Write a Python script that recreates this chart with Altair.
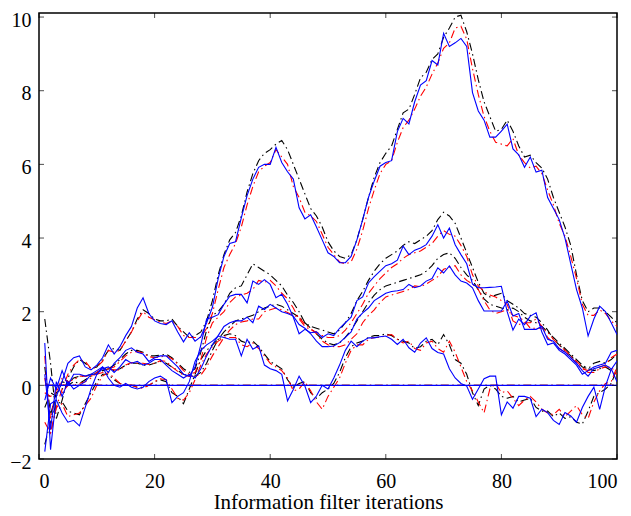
import altair as alt
import pandas as pd

# iteration index
iters = list(range(1, 101))

# ---- state 1 (large excursion) ----
true_1 = [1.15, -1.75, -0.3, 0.1, 0.6, 0.75, 0.8, 0.5, 0.42, 0.55,
          0.75, 1.1, 0.85, 1.05, 1.35, 1.6, 2.1, 2.38, 1.95, 1.75,
          1.68, 1.65, 1.75, 1.45, 1.18, 1.43, 1.2, 1.32, 1.7, 2.12,
          2.9, 3.5, 3.85, 3.9, 4.55, 5.15, 5.6, 5.92, 6.0, 6.0,
          6.46, 6.05, 5.8, 5.6, 4.82, 4.52, 4.63, 4.3, 3.95, 3.6,
          3.5, 3.33, 3.33, 3.5, 3.95, 4.5, 5.1, 5.55, 5.95, 6.05,
          6.1, 6.89, 7.25, 7.1, 7.7, 8.15, 8.27, 8.82, 8.7, 9.56,
          9.2, 9.3, 9.42, 9.2, 7.95, 7.45, 7.2, 6.74, 6.74, 6.9,
          7.09, 6.42, 6.26, 5.92, 6.2, 5.79, 5.84, 5.1, 4.8, 4.5,
          4.0, 3.3, 2.6, 2.1, 1.34, 1.8, 2.15, 2.0, 1.7, 1.38]
est_k_1 = [1.8, 0.6, -0.9, -0.4, 0.2, 0.5, 0.7, 0.6, 0.45, 0.5,
           0.7, 0.95, 1.0, 0.95, 1.2, 1.45, 1.8, 2.05, 1.95, 1.8,
           1.75, 1.75, 1.8, 1.6, 1.45, 1.3, 1.35, 1.45, 1.75, 2.3,
           3.0, 3.55, 3.95, 4.15, 4.6, 5.25, 5.75, 6.1, 6.3, 6.4,
           6.55, 6.65, 6.4, 6.0, 5.6, 5.2, 4.8, 4.6, 4.3, 3.9,
           3.65, 3.5, 3.45, 3.55, 3.95, 4.5, 5.1, 5.65, 6.05, 6.3,
           6.5, 6.95, 7.4, 7.5, 7.9, 8.35, 8.5, 8.85, 9.0, 9.45,
           9.7, 10.0, 10.05, 9.6, 9.0, 8.3, 7.7, 7.3, 6.9, 6.95,
           7.2, 6.9, 6.5, 6.2, 6.25, 6.05, 5.9, 5.6, 5.1, 4.7,
           4.3, 3.8, 3.0, 2.3, 2.0, 2.1, 2.1, 2.0, 1.85, 1.7]
est_r_1 = [0.8, -1.3, -0.6, -0.1, 0.3, 0.55, 0.7, 0.65, 0.45, 0.5,
           0.65, 0.95, 0.9, 0.95, 1.2, 1.45, 1.75, 2.0, 1.85, 1.78,
           1.72, 1.68, 1.75, 1.6, 1.35, 1.3, 1.3, 1.3, 1.55, 1.95,
           2.6, 3.2, 3.55, 3.85, 4.3, 4.9, 5.4, 5.8, 5.95, 6.05,
           6.4, 6.2, 6.0, 5.4, 5.1, 4.7, 4.6, 4.45, 4.1, 3.75,
           3.55, 3.35, 3.3, 3.35, 3.7, 4.2, 4.8, 5.3, 5.75, 6.0,
           6.1, 6.6, 7.0, 7.2, 7.5, 7.85, 8.1, 8.45, 8.75, 9.15,
           9.3, 9.7, 9.75, 9.4, 8.6, 7.9, 7.3, 6.9, 6.6, 6.55,
           6.5, 6.7, 6.25, 6.05, 5.9, 5.95, 5.75, 5.3, 4.9, 4.4,
           4.05, 3.5, 2.9, 2.2, 1.9, 1.9, 2.05, 1.95, 1.75, 1.6]

# ---- state 2 ----
true_2 = [0.3, -1.2, 0.1, -0.3, 0.1, -0.1, 0.0, 0.1, 0.3, 0.4,
          0.5, 0.35, 0.6, 0.75, 0.95, 1.02, 0.9, 0.85, 0.65, 0.75,
          0.8, 0.8, 0.65, 0.5, 0.3, 0.25, 0.5, 1.1, 1.8, 1.85,
          1.92, 2.2, 2.42, 2.47, 2.47, 2.24, 2.83, 2.74, 2.87, 2.74,
          2.38, 2.47, 2.2, 1.85, 1.4, 1.52, 1.43, 1.45, 1.3, 1.4,
          1.35, 1.55, 1.7, 1.85, 2.3, 2.4, 2.78, 2.95, 3.1, 3.25,
          3.3, 3.4, 3.78, 3.55, 3.67, 3.73, 3.82, 4.05, 4.36, 4.0,
          4.27, 3.82, 3.55, 3.3, 2.75, 2.65, 2.65, 2.66, 2.67, 2.69,
          2.0, 1.5, 1.8, 1.65, 1.88, 1.97, 1.45, 1.1, 1.15, 0.95,
          0.85, 0.7, 0.55, 0.3, 0.4, 0.5, 0.55, 0.6, 0.9, 0.95]
est_k_2 = [0.5, -0.8, -0.2, -0.1, 0.0, 0.1, 0.05, 0.15, 0.25, 0.35,
           0.45, 0.45, 0.55, 0.7, 0.85, 0.95, 0.95, 0.9, 0.8, 0.8,
           0.82, 0.85, 0.75, 0.6, 0.45, 0.35, 0.45, 0.9, 1.5, 1.9,
           2.0, 2.2, 2.5, 2.65, 2.7, 3.0, 3.3, 3.2, 3.1, 3.0,
           2.85, 2.7, 2.45, 2.25, 2.0, 1.7, 1.6, 1.55, 1.5, 1.45,
           1.4, 1.5, 1.7, 1.95, 2.3, 2.55, 2.85, 3.1, 3.3, 3.45,
           3.55, 3.65, 3.8, 3.9, 3.85, 3.95, 4.05, 4.2, 4.5, 4.7,
           4.6, 4.4, 4.0, 3.6, 3.2, 2.8, 2.5, 2.4, 2.45, 2.5,
           2.3, 2.2, 2.1, 1.95, 1.9, 1.85, 1.7, 1.5, 1.25, 1.1,
           0.95, 0.8, 0.65, 0.5, 0.45, 0.6, 0.65, 0.6, 0.7, 0.85]
est_r_2 = [0.2, -0.9, -0.1, -0.2, 0.0, 0.0, 0.05, 0.1, 0.2, 0.35,
           0.45, 0.45, 0.5, 0.65, 0.8, 0.9, 0.92, 0.88, 0.78, 0.75,
           0.77, 0.8, 0.72, 0.58, 0.4, 0.3, 0.35, 0.7, 1.3, 1.7,
           1.85, 2.0, 2.25, 2.4, 2.45, 2.5, 2.6, 2.85, 2.8, 2.85,
           2.7, 2.5, 2.35, 2.1, 1.8, 1.6, 1.5, 1.45, 1.35, 1.3,
           1.3, 1.35, 1.5, 1.7, 1.95, 2.2, 2.5, 2.7, 2.9, 3.05,
           3.2, 3.3, 3.45, 3.55, 3.6, 3.65, 3.75, 3.85, 4.05, 4.2,
           4.1, 4.05, 3.8, 3.5, 3.0, 2.7, 2.55, 2.45, 2.4, 2.3,
           2.2, 1.75, 1.65, 1.7, 1.7, 1.8, 1.6, 1.3, 1.15, 1.0,
           0.9, 0.75, 0.6, 0.45, 0.4, 0.45, 0.5, 0.55, 0.75, 0.85]

# ---- state 3 ----
true_3 = [-0.4, 0.2, -0.1, 0.4, 0.0, 0.3, 0.3, 0.25, 0.3, 0.3,
          0.45, 0.5, 0.35, 0.5, 0.7, 0.6, 0.65, 0.55, 0.6, 0.7,
          0.7, 0.55, 0.4, 0.3, 0.2, 0.3, 0.2, 0.45, 0.8, 1.1,
          1.35, 1.6, 1.7, 1.75, 1.75, 1.85, 1.7, 2.15, 2.06, 2.2,
          2.1, 2.0, 1.95, 1.88, 1.65, 1.55, 1.4, 1.2, 1.05, 1.05,
          1.07, 1.16, 1.3, 1.45, 1.8, 1.97, 2.1, 2.3, 2.4, 2.5,
          2.55, 2.57, 2.6, 2.74, 2.65, 2.7, 2.83, 2.9, 3.19, 3.05,
          3.24, 3.0, 2.83, 2.78, 2.65, 2.3, 2.02, 2.02, 2.02, 2.02,
          2.29, 1.88, 1.95, 1.52, 1.52, 1.52, 1.6, 1.25, 1.2, 1.0,
          0.9, 0.75, 0.6, 0.4, 0.25, 0.45, 0.5, 0.55, 0.45, 0.1]
est_k_3 = [-0.6, -0.2, -0.3, 0.1, 0.05, 0.2, 0.25, 0.25, 0.3, 0.3,
           0.4, 0.45, 0.4, 0.45, 0.55, 0.6, 0.6, 0.55, 0.55, 0.6,
           0.65, 0.6, 0.5, 0.4, 0.3, 0.25, 0.25, 0.35, 0.6, 0.95,
           1.25, 1.45, 1.6, 1.75, 1.8, 1.85, 1.9, 2.0, 2.1, 2.15,
           2.2, 2.15, 2.05, 1.95, 1.85, 1.7, 1.55, 1.4, 1.25, 1.15,
           1.1, 1.15, 1.3, 1.5, 1.75, 2.0, 2.25, 2.45, 2.6, 2.7,
           2.75, 2.8, 2.85, 2.9, 2.95, 3.0, 3.1, 3.25, 3.45, 3.55,
           3.6, 3.45, 3.2, 3.0, 2.85, 2.6, 2.35, 2.2, 2.15, 2.1,
           2.05, 2.1, 2.0, 1.85, 1.75, 1.7, 1.6, 1.45, 1.3, 1.15,
           1.0, 0.85, 0.7, 0.55, 0.45, 0.4, 0.45, 0.5, 0.4, 0.25]
est_r_3 = [-0.2, -0.3, -0.2, 0.2, 0.1, 0.15, 0.25, 0.25, 0.25, 0.3,
           0.35, 0.45, 0.42, 0.42, 0.55, 0.62, 0.6, 0.6, 0.57, 0.6,
           0.67, 0.65, 0.5, 0.38, 0.28, 0.24, 0.26, 0.28, 0.5, 0.8,
           1.05, 1.3, 1.5, 1.65, 1.72, 1.75, 1.8, 1.8, 2.0, 2.05,
           2.1, 2.05, 1.98, 1.9, 1.85, 1.65, 1.55, 1.4, 1.2, 1.1,
           1.05, 1.05, 1.1, 1.25, 1.4, 1.7, 1.9, 2.05, 2.25, 2.4,
           2.45, 2.5, 2.55, 2.6, 2.7, 2.68, 2.75, 2.85, 2.95, 3.15,
           3.2, 3.25, 3.0, 2.85, 2.75, 2.6, 2.3, 2.05, 1.95, 2.0,
           2.05, 1.9, 1.85, 1.75, 1.55, 1.55, 1.55, 1.45, 1.25, 1.1,
           0.95, 0.8, 0.65, 0.5, 0.35, 0.35, 0.45, 0.5, 0.5, 0.3]

# ---- state 4 (oscillates around zero) ----
true_4 = [-1.8, -0.5, -0.4, -0.75, -1.0, -0.95, -1.1, -0.6, -0.1, 0.3,
          0.5, 0.2, 0.0, -0.05, 0.05, -0.05, -0.1, -0.05, 0.1, 0.2,
          0.25, 0.15, -0.47, -0.3, -0.2, 0.1, 0.65, 0.95, 1.1, 1.2,
          1.34, 1.3, 1.25, 1.25, 0.8, 1.25, 0.98, 1.07, 0.55, 0.45,
          0.4, 0.3, -0.42, -0.11, 0.25, -0.02, -0.47, -0.29, 0.0, -0.1,
          0.2, 0.55, 0.95, 1.2, 1.05, 1.2, 1.29, 1.29, 1.32, 1.34,
          1.25, 1.11, 1.25, 1.02, 0.9, 1.15, 1.29, 1.0, 0.89, 0.85,
          0.45, 0.2, 0.05, -0.02, -0.38, -0.1, 0.18, 0.25, 0.25, -0.8,
          -0.45, -0.62, -0.3, -0.3, -0.35, -0.85, -0.65, -0.74, -0.95, -1.06,
          -0.74, -0.83, -1.0, -0.6, -0.3, -0.05, -0.65, -0.02, 0.43, 0.66]
est_k_4 = [-1.6, -1.0, -0.5, -0.45, -0.7, -0.75, -0.8, -0.5, -0.2, 0.1,
           0.3, 0.3, 0.15, 0.05, 0.0, 0.0, -0.05, -0.05, 0.0, 0.1,
           0.15, 0.1, -0.2, -0.3, -0.5, -0.1, 0.3, 0.7, 0.95, 1.1,
           1.25, 1.35, 1.4, 1.35, 1.2, 1.15, 1.2, 1.05, 0.85, 0.65,
           0.55, 0.45, 0.15, -0.05, 0.05, 0.1, -0.2, -0.35, -0.2, -0.1,
           0.05, 0.35, 0.75, 1.05, 1.15, 1.2, 1.3, 1.35, 1.35, 1.4,
           1.35, 1.25, 1.2, 1.15, 1.0, 1.05, 1.2, 1.25, 1.1, 1.38,
           1.1, 0.7, 0.6, 0.3, -0.2, -0.55, -0.1, 0.0, -0.1, -0.3,
           -0.35, -0.3, -0.45, -0.4, -0.35, -0.6, -0.7, -0.7, -0.85, -0.75,
           -0.9, -0.85, -1.0, -1.05, -0.7, -0.3, -0.2, -0.1, 0.05, 0.45]
est_r_4 = [-1.0, -1.3, -0.6, -0.5, -0.85, -0.8, -0.75, -0.55, -0.35, 0.0,
           0.25, 0.35, 0.2, 0.05, 0.02, 0.0, -0.05, -0.08, 0.0, 0.1,
           0.18, 0.15, -0.1, -0.35, -0.4, -0.2, 0.15, 0.55, 0.85, 1.05,
           1.2, 1.3, 1.3, 1.3, 1.1, 1.05, 1.15, 1.0, 0.8, 0.6,
           0.5, 0.4, 0.2, -0.15, -0.1, 0.1, -0.15, -0.45, -0.65, -0.3,
           -0.05, 0.2, 0.6, 0.95, 1.1, 1.1, 1.25, 1.3, 1.3, 1.35,
           1.38, 1.25, 1.15, 1.2, 1.0, 0.95, 1.15, 1.2, 1.0, 0.9,
           1.2, 0.9, 0.5, 0.1, -0.15, -0.45, -0.75, -0.1, 0.05, -0.2,
           -0.15, -0.35, -0.55, -0.4, -0.3, -0.45, -0.65, -0.75, -0.8, -0.65,
           -0.85, -0.7, -0.55, -0.8, -0.9, -0.45, -0.15, 0.05, 0.1, 0.5]

# ---- state 5 (identically zero) ----
true_5 = [0.0] * 100
est_k_5 = [0.0] * 100
est_r_5 = [0.0] * 100

x_ticks = [0, 20, 40, 60, 80, 100]
y_ticks = [-2, 0, 2, 4, 6, 8, 10]
x_title = "Information filter iterations"

states = {
    "s1": (true_1, est_k_1, est_r_1),
    "s2": (true_2, est_k_2, est_r_2),
    "s3": (true_3, est_k_3, est_r_3),
    "s4": (true_4, est_k_4, est_r_4),
    "s5": (true_5, est_k_5, est_r_5),
}

rows = []
for name, (t, k, r) in states.items():
    for i, it in enumerate(iters):
        rows.append({"it": it, "v": t[i], "series": name + "_true", "kind": "true"})
        rows.append({"it": it, "v": k[i], "series": name + "_k", "kind": "k"})
        rows.append({"it": it, "v": r[i], "series": name + "_r", "kind": "r"})
df = pd.DataFrame(rows)

W, H = 578, 446
FONT = "Liberation Serif"
xs = alt.Scale(domain=[0, 100], nice=False, zero=False)
ys = alt.Scale(domain=[-2, 10.11], nice=False, zero=False)

xax = alt.Axis(values=x_ticks, grid=False, domain=False, ticks=False, tickSize=0,
               labelPadding=12, labelFont=FONT, labelFontSize=20, labelColor="black",
               title=x_title, titleFont=FONT, titleFontSize=21, titleFontWeight="normal",
               titleColor="black", titleBaseline="alphabetic", titleY=49)
yax = alt.Axis(values=y_ticks, grid=False, domain=False, ticks=False, tickSize=0,
               labelPadding=8, labelOffset=3, labelFont=FONT, labelFontSize=20,
               labelColor="black", title=None)

base = alt.Chart(df)
DASHDOT = [8, 3.5, 1.5, 3.5]

def layer(kind, color, dash):
    props = dict(strokeWidth=1.1, color=color, clip=True)
    if dash:
        props["strokeDash"] = dash
    return base.transform_filter(alt.datum.kind == kind).mark_line(**props).encode(
        x=alt.X("it:Q", scale=xs, axis=xax, title=x_title),
        y=alt.Y("v:Q", scale=ys, axis=yax, title=None),
        detail="series:N",
        order="it:Q",
    )

blk = layer("k", "#000000", DASHDOT)
red = layer("r", "#FF0000", DASHDOT)
blu = layer("true", "#0000FF", None)

xt = pd.DataFrame({"t": x_ticks})
yt = pd.DataFrame({"t": y_ticks})
tick_bottom = alt.Chart(xt).mark_tick(orient="vertical", size=5, thickness=1, color="black").encode(
    x=alt.X("t:Q", scale=xs, axis=xax, title=x_title), y=alt.value(H - 2.5))
tick_top = alt.Chart(xt).mark_tick(orient="vertical", size=5, thickness=1, color="black").encode(
    x=alt.X("t:Q", scale=xs, axis=xax, title=x_title), y=alt.value(2.5))
tick_left = alt.Chart(yt).mark_tick(orient="horizontal", size=5, thickness=1, color="black").encode(
    y=alt.Y("t:Q", scale=ys, axis=yax, title=None), x=alt.value(2.5))
tick_right = alt.Chart(yt).mark_tick(orient="horizontal", size=5, thickness=1, color="black").encode(
    y=alt.Y("t:Q", scale=ys, axis=yax, title=None), x=alt.value(W - 2.5))

chart = alt.layer(blk, red, blu, tick_bottom, tick_top, tick_left, tick_right).properties(
    width=W, height=H,
    autosize=alt.AutoSizeParams(type="none"),
    padding={"left": 31, "top": 5, "right": 6, "bottom": 55},
    background="white",
).configure_view(stroke="black", strokeWidth=1.5)

chart.save("out.html", embed_options={"renderer": "svg", "actions": False})
